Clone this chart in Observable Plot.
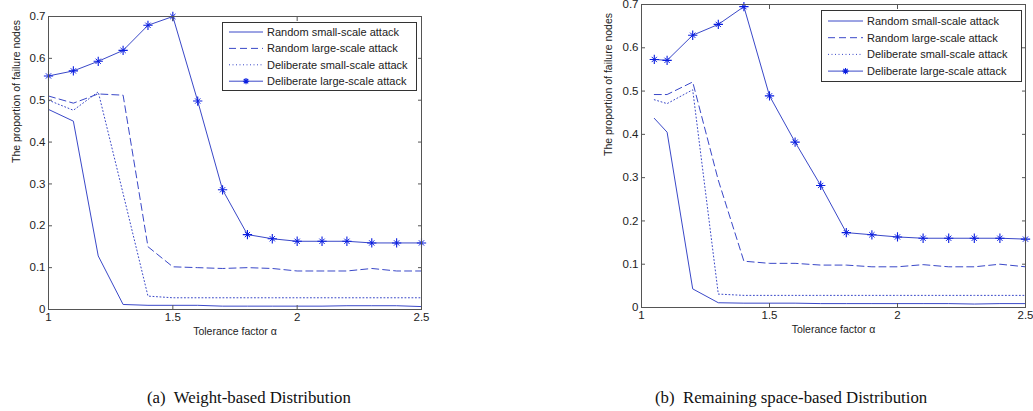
<!DOCTYPE html>
<html>
<head>
<meta charset="utf-8">
<script src="https://cdn.jsdelivr.net/npm/d3@7"></script>
<script src="https://cdn.jsdelivr.net/npm/@observablehq/plot@0.6"></script>
<style>
  html, body { margin: 0; padding: 0; background: #fff; width: 1033px; height: 411px; overflow: hidden; }
  .panel { position: absolute; top: 0; }
  .legend { position: absolute; top: 0; left: 0; }
  .caption { position: absolute; font-family: "Liberation Serif", "Times New Roman", serif; font-size: 16.8px; color: #111; white-space: nowrap; }
</style>
</head>
<body>
<div id="left" class="panel" style="left:0px"></div>
<div id="right" class="panel" style="left:560px"></div>
<svg id="leg" class="legend" width="1033" height="411"></svg>
<div class="caption" style="left:147px; top:388px;">(a)&nbsp; Weight-based Distribution</div>
<div class="caption" style="left:655px; top:388px;">(b)&nbsp; Remaining space-based Distribution</div>
<script>
// ---- Data ----
const seriesNames = ["Random small-scale attack", "Random large-scale attack", "Deliberate small-scale attack", "Deliberate large-scale attack"];
const xTicks = [1, 1.5, 2, 2.5];
const yTicks = [0, 0.1, 0.2, 0.3, 0.4, 0.5, 0.6, 0.7];
const xLabel = "Tolerance factor \u03b1";
const yLabel = "The proportion of failure nodes";

// (a) Weight-based Distribution
const alphaA = [1.0, 1.1, 1.2, 1.3, 1.4, 1.5, 1.6, 1.7, 1.8, 1.9, 2.0, 2.1, 2.2, 2.3, 2.4, 2.5];
const randSmallA = [0.478, 0.450, 0.128, 0.012, 0.010, 0.010, 0.010, 0.008, 0.008, 0.008, 0.008, 0.008, 0.009, 0.009, 0.009, 0.007];
const randLargeA = [0.510, 0.493, 0.515, 0.512, 0.150, 0.102, 0.100, 0.098, 0.100, 0.098, 0.092, 0.092, 0.092, 0.098, 0.092, 0.092];
const delSmallA  = [0.500, 0.476, 0.520, 0.277, 0.032, 0.028, 0.028, 0.028, 0.028, 0.028, 0.028, 0.028, 0.028, 0.028, 0.028, 0.028];
const delLargeA  = [0.558, 0.570, 0.593, 0.619, 0.679, 0.700, 0.498, 0.286, 0.179, 0.169, 0.163, 0.163, 0.163, 0.159, 0.159, 0.159];

// (b) Remaining space-based Distribution
const alphaB = [1.05, 1.1, 1.2, 1.3, 1.4, 1.5, 1.6, 1.7, 1.8, 1.9, 2.0, 2.1, 2.2, 2.3, 2.4, 2.5];
const randSmallB = [0.437, 0.405, 0.043, 0.011, 0.010, 0.010, 0.010, 0.009, 0.009, 0.009, 0.009, 0.009, 0.009, 0.008, 0.009, 0.009];
const randLargeB = [0.492, 0.492, 0.521, 0.294, 0.107, 0.102, 0.102, 0.098, 0.098, 0.094, 0.094, 0.099, 0.094, 0.094, 0.100, 0.094];
const delSmallB  = [0.480, 0.471, 0.503, 0.031, 0.028, 0.028, 0.028, 0.028, 0.028, 0.028, 0.028, 0.028, 0.028, 0.028, 0.028, 0.028];
const delLargeB  = [0.573, 0.571, 0.629, 0.654, 0.695, 0.489, 0.382, 0.282, 0.173, 0.168, 0.163, 0.160, 0.160, 0.160, 0.160, 0.158];

// ---- Styles ----
const lineColor = "#3a48c8";
const starColor = "#0a1ee0";
const dashes = [null, "7,4", "1,2.5", null];
const FONT = "'Liberation Sans', Arial, Helvetica, sans-serif";

function rows(xs, ys) { return xs.map((x, i) => ({x, y: ys[i]})); }

function panel(xs, serie, m, yLabelDx) {
  const [rs, rl, ds, dl] = serie.map(s => rows(xs, s));
  const fmtY = d => d === 0 ? "0" : d.toFixed(1);
  return Plot.plot({
    width: m.width, height: m.height,
    marginLeft: m.left, marginRight: m.right, marginTop: m.top, marginBottom: m.bottom,
    style: {fontFamily: FONT, fontSize: "11.5px", color: "#222", background: "transparent", overflow: "visible"},
    x: {domain: [1, 2.5]},
    y: {domain: [0, 0.7]},
    marks: [
      Plot.lineY(rs, {x: "x", y: "y", stroke: lineColor, strokeWidth: 1}),
      Plot.lineY(rl, {x: "x", y: "y", stroke: lineColor, strokeWidth: 1, strokeDasharray: dashes[1]}),
      Plot.lineY(ds, {x: "x", y: "y", stroke: lineColor, strokeWidth: 1, strokeDasharray: dashes[2]}),
      Plot.lineY(dl, {x: "x", y: "y", stroke: lineColor, strokeWidth: 1}),
      Plot.dot(dl, {x: "x", y: "y", symbol: "plus", r: 3.1, stroke: starColor, strokeWidth: 1.1}),
      Plot.dot(dl, {x: "x", y: "y", symbol: "times", r: 2.5, stroke: starColor, strokeWidth: 1.0}),
      Plot.frame({stroke: "#555", strokeWidth: 1}),
      // inward ticks on all four sides
      Plot.axisX({ticks: xTicks, tickSize: -4, text: null, stroke: "#555", label: null}),
      Plot.axisX({anchor: "top", ticks: xTicks, tickSize: -4, text: null, stroke: "#555", label: null}),
      Plot.axisY({ticks: yTicks, tickSize: -4, text: null, stroke: "#555", label: null}),
      Plot.axisY({anchor: "right", ticks: yTicks, tickSize: -4, text: null, stroke: "#555", label: null}),
      // tick labels
      Plot.axisX({ticks: xTicks, tickSize: 0, tickPadding: 3, tickFormat: d => String(d), label: null, fill: "#222"}),
      Plot.axisY({ticks: yTicks, tickSize: 0, tickPadding: 3, tickFormat: fmtY, label: null, fill: "#222"}),
      // axis titles
      Plot.text([xLabel], {text: d => d, frameAnchor: "bottom", dy: 25, fontSize: 10.5, fill: "#222"}),
      Plot.text([yLabel], {text: d => d, frameAnchor: "left", rotate: -90, dx: yLabelDx, fontSize: 10.5, fill: "#222"})
    ]
  });
}

document.getElementById("left").append(
  panel(alphaA, [randSmallA, randLargeA, delSmallA, delLargeA],
        {width: 450, height: 345, left: 48, right: 29, top: 16, bottom: 36}, -32)
);
document.getElementById("right").append(
  panel(alphaB, [randSmallB, randLargeB, delSmallB, delLargeB],
        {width: 473, height: 345, left: 81, right: 8, top: 4, bottom: 38}, -33)
);

// ---- Legends (overlay) ----
const legendBoxes = [
  {x: 222, y: 22, w: 194, h: 68, rowY0: 32, rowStep: 16.4, lx0: 229, lx1: 263, tx: 267},
  {x: 821, y: 10, w: 200, h: 71, rowY0: 21, rowStep: 16.7, lx0: 828, lx1: 863, tx: 867}
];
const leg = d3.select("#leg");
legendBoxes.forEach(b => {
  leg.append("rect").attr("x", b.x + 0.5).attr("y", b.y + 0.5).attr("width", b.w).attr("height", b.h)
    .attr("fill", "white").attr("stroke", "#333").attr("stroke-width", 1);
  seriesNames.forEach((name, i) => {
    const y = b.rowY0 + i * b.rowStep;
    leg.append("line").attr("x1", b.lx0).attr("x2", b.lx1).attr("y1", y).attr("y2", y)
      .attr("stroke", lineColor).attr("stroke-width", 1)
      .attr("stroke-dasharray", dashes[i]);
    if (i === 3) {
      const cx = (b.lx0 + b.lx1) / 2, r = 3.1, q = 2.2;
      leg.append("path").attr("d", `M${cx - r},${y}H${cx + r}M${cx},${y - r}V${y + r}M${cx - q},${y - q}L${cx + q},${y + q}M${cx - q},${y + q}L${cx + q},${y - q}`)
        .attr("stroke", starColor).attr("stroke-width", 1.1).attr("fill", "none");
    }
    leg.append("text").attr("x", b.tx).attr("y", y).attr("dy", "0.35em")
      .attr("font-family", FONT).attr("font-size", 11).attr("fill", "#222").text(name);
  });
});
</script>
</body>
</html>
